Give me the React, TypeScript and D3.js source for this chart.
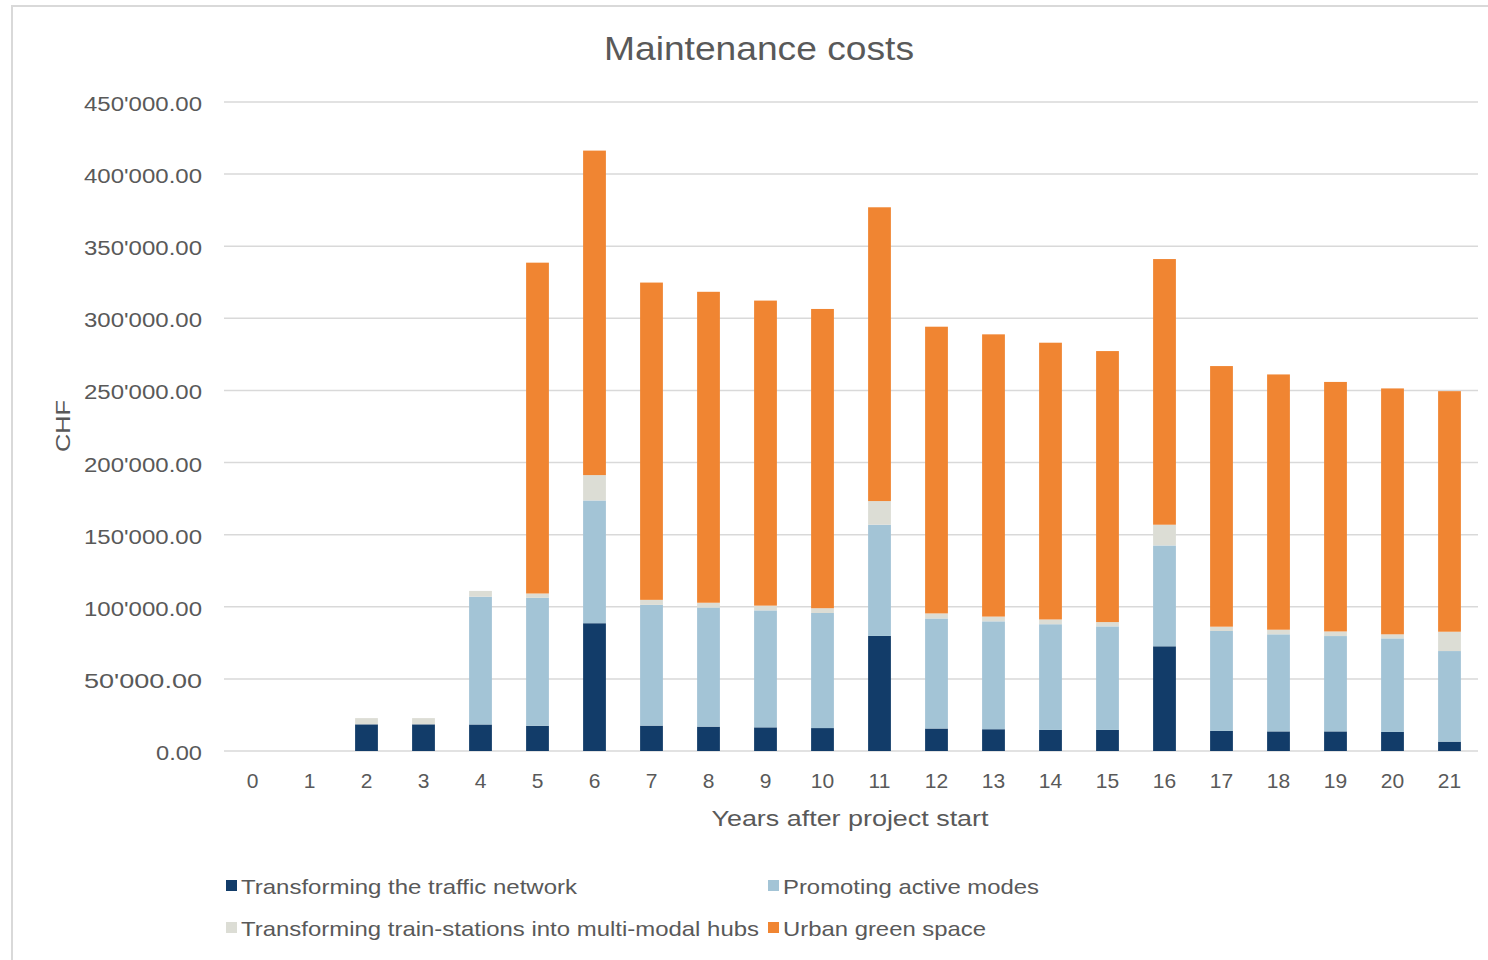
import React from "react";
import * as d3 from "d3";

const years = ["0","1","2","3","4","5","6","7","8","9","10","11","12","13","14","15","16","17","18","19","20","21"];
const traffic = [0,0,18500,18500,18400,17500,88600,17600,16900,16400,15900,79800,15600,15100,14600,14600,72600,13900,13600,13600,13200,6500];
const active = [0,0,0,0,88600,88700,85100,83700,82600,81100,79800,77100,76300,74800,73300,71800,69900,69300,67300,66100,64900,62800];
const hubs = [0,0,4300,4300,4000,3000,17600,3500,3300,3300,3300,16400,3500,3300,3300,3000,14400,3000,3200,3200,2800,13400];
const green = [0,0,0,0,0,229400,225000,220000,215600,211500,207500,203700,198800,195700,191900,187900,184200,180700,177000,173000,170500,166800];
const seriesNames = ["Transforming the traffic network","Promoting active modes","Transforming train-stations into multi-modal hubs","Urban green space"];
const seriesColors = ["#123c69","#a3c4d6","#dcddd5","#f08532"];
const yTicks = [0,50000,100000,150000,200000,250000,300000,350000,400000,450000];

const W = 1488, H = 960;
const left = 224, right = 1478, top = 102, bottom = 751;
const textColor = "#595959";
const font = "'Liberation Sans', Arial, sans-serif";

export default function App() {
  const x = d3.scaleBand<string>().domain(years).range([left, right]).paddingInner(0.6).paddingOuter(0.3);
  const y = d3.scaleLinear().domain([0, 450000]).range([bottom, top]);
  const rows = years.map((yr, i) => ({ year: yr, s0: traffic[i], s1: active[i], s2: hubs[i], s3: green[i] }));
  const stack = d3.stack<any>().keys(["s0","s1","s2","s3"])(rows);
  const fmt = (v: number) => {
    const th = Math.floor(v / 1000);
    return th === 0 ? "0.00" : `${th}'000.00`;
  };
  const legend = [
    { i: 0, x: 226, y: 886, len: 336 },
    { i: 1, x: 768, y: 886, len: 256 },
    { i: 2, x: 226, y: 928, len: 518 },
    { i: 3, x: 768, y: 928, len: 203 },
  ];
  return (
    <svg width={W} height={H} style={{ position: "absolute", left: 0, top: 0, background: "#fff" }} fontFamily={font}>
      <rect x={12} y={6} width={1500} height={1000} fill="#fff" stroke="#d9d9d9" strokeWidth={2} />
      <text x={759} y={60} textAnchor="middle" fontSize={33} fill={textColor} textLength={310} lengthAdjust="spacingAndGlyphs">Maintenance costs</text>
      {yTicks.map((t) => (
        <g key={t}>
          <line x1={left} x2={right} y1={y(t)} y2={y(t)} stroke="#d9d9d9" strokeWidth={1.5} />
          <text x={202} y={y(t) + 9} textAnchor="end" fontSize={20} fill={textColor}
            textLength={t === 0 ? 46 : 118} lengthAdjust="spacingAndGlyphs">{fmt(t)}</text>
        </g>
      ))}
      {stack.map((layer, si) => (
        <g key={si} fill={seriesColors[si]}>
          {layer.map((d: any, i: number) => {
            const h = y(d[0]) - y(d[1]);
            if (h <= 0) return null;
            return <rect key={i} x={x(years[i])} y={y(d[1])} width={x.bandwidth()} height={h} />;
          })}
        </g>
      ))}
      {years.map((yr) => (
        <text key={yr} x={(x(yr) as number) + x.bandwidth() / 2} y={788} textAnchor="middle" fontSize={21} fill={textColor}>{yr}</text>
      ))}
      <text x={850} y={826} textAnchor="middle" fontSize={22} fill={textColor} textLength={277} lengthAdjust="spacingAndGlyphs">Years after project start</text>
      <text transform="translate(70,426) rotate(-90)" textAnchor="middle" fontSize={21} fill={textColor} textLength={52} lengthAdjust="spacingAndGlyphs">CHF</text>
      {legend.map((l) => (
        <g key={l.i}>
          <rect x={l.x} y={l.y - 6} width={11} height={11} fill={seriesColors[l.i]} />
          <text x={l.x + 15} y={l.y + 8} fontSize={21} fill={textColor} textLength={l.len} lengthAdjust="spacingAndGlyphs">{seriesNames[l.i]}</text>
        </g>
      ))}
    </svg>
  );
}
